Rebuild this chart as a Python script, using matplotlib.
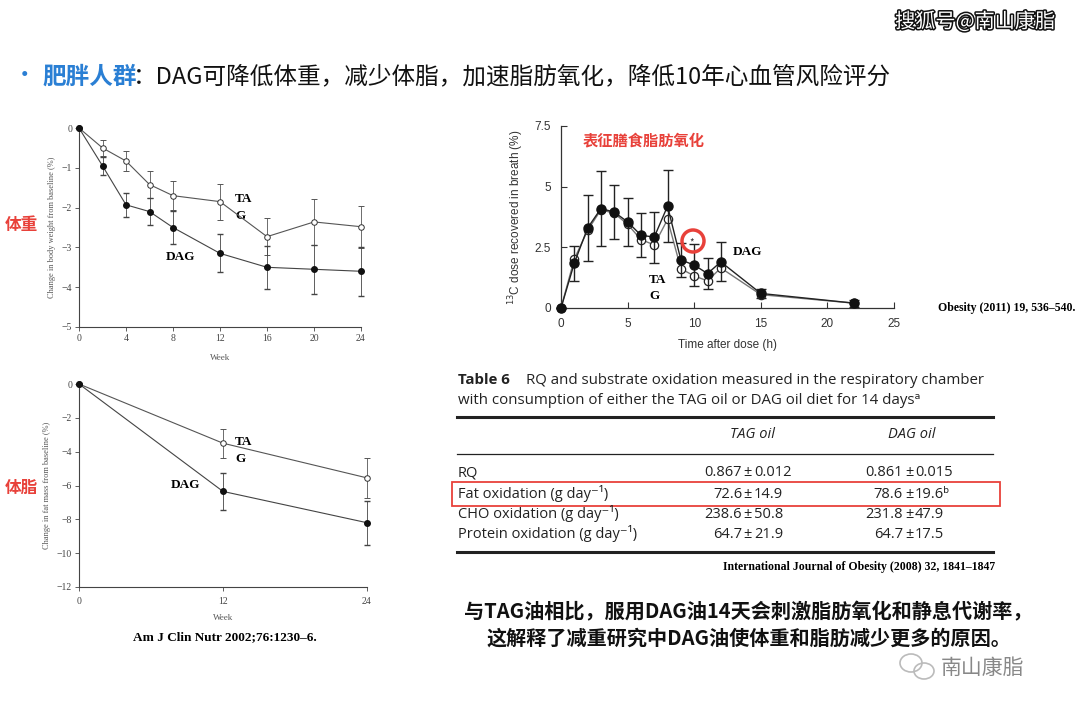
import matplotlib
matplotlib.use("Agg")
import matplotlib.pyplot as plt
import matplotlib.patheffects as pe
from matplotlib.patches import Rectangle, Circle, Ellipse

plt.rcParams['font.family'] = ['Noto Sans CJK SC', 'DejaVu Sans']

# ---- data: body weight (%), AJCN 2002 ----
bw_weeks = [0, 2, 4, 6, 8, 12, 16, 20, 24]
bw_tag = [0, -0.5, -0.83, -1.42, -1.7, -1.85, -2.73, -2.36, -2.48]
bw_tag_err = [0, 0.2, 0.26, 0.33, 0.36, 0.45, 0.46, 0.57, 0.53]
bw_dag = [0, -0.95, -1.93, -2.1, -2.5, -3.15, -3.5, -3.55, -3.6]
bw_dag_err = [0, 0.23, 0.3, 0.34, 0.41, 0.48, 0.54, 0.61, 0.62]

# ---- data: fat mass (%) ----
fm_weeks = [0, 12, 24]
fm_tag = [0, -3.5, -5.55]
fm_tag_err = [0, 0.85, 1.2]
fm_dag = [0, -6.35, -8.2]
fm_dag_err = [0, 1.07, 1.3]

# ---- data: 13C recovered in breath (%), Obesity 2011 ----
c_hours = [0, 1, 2, 3, 4, 5, 6, 7, 8, 9, 10, 11, 12, 15, 22]
c_dag = [0, 1.85, 3.3, 4.1, 3.95, 3.55, 3.0, 2.92, 4.2, 1.98, 1.77, 1.42, 1.9, 0.6, 0.2]
c_dag_err = [0, 0.72, 1.35, 1.55, 1.1, 1.0, 0.9, 1.05, 1.5, 0.7, 0.85, 0.65, 0.8, 0.2, 0.15]
c_tag = [0, 2.02, 3.2, 4.05, 3.9, 3.45, 2.82, 2.6, 3.65, 1.62, 1.32, 1.12, 1.65, 0.55, 0.2]

# ---- data: Table 6, IJO 2008 ----
tbl_rows = ["RQ", "Fat oxidation (g day\u207b\u00b9)", "CHO oxidation (g day\u207b\u00b9)",
            "Protein oxidation (g day\u207b\u00b9)"]
tbl_tag = ["0.867", "72.6", "238.6", "64.7"]
tbl_tag_sd = ["0.012", "14.9", "50.8", "21.9"]
tbl_dag = ["0.861", "78.6", "231.8", "64.7"]
tbl_dag_sd = ["0.015", "19.6\u1d47", "47.9", "17.5"]

W, H = 1080, 715
fig = plt.figure(figsize=(W / 100, H / 100), dpi=100)
fig.patch.set_facecolor('white')


def px_axes(l, t, r, b):
    return fig.add_axes([l / W, 1 - b / H, (r - l) / W, (b - t) / H])


serif = 'Liberation Serif'
sans = 'Liberation Sans'
gray = '#555555'


def style_small(ax):
    for s in ['top', 'right']:
        ax.spines[s].set_visible(False)
    for s in ['left', 'bottom']:
        ax.spines[s].set_color('#444444')
        ax.spines[s].set_linewidth(0.8)
    ax.tick_params(length=3, width=0.6, labelsize=7, colors='#444444', pad=2)
    for lab in ax.get_xticklabels() + ax.get_yticklabels():
        lab.set_fontfamily(serif)


# panel 1: body weight
ax1 = px_axes(79, 128, 361, 327)
ax1.errorbar(bw_weeks, bw_tag, yerr=bw_tag_err, color='#555555', lw=0.8, marker='o',
             ms=4, mfc='white', mec='#333333', mew=0.7, capsize=2, elinewidth=0.6,
             clip_on=False, zorder=3)
ax1.errorbar(bw_weeks, bw_dag, yerr=bw_dag_err, color='#444444', lw=0.8, marker='o',
             ms=4, mfc='#111111', mec='#111111', capsize=2, elinewidth=0.6,
             clip_on=False, zorder=3)
ax1.set_xlim(0, 24)
ax1.set_ylim(-5, 0)
ax1.set_xticks([0, 4, 8, 12, 16, 20, 24])
ax1.set_yticks([0, -1, -2, -3, -4, -5])
ax1.set_yticklabels(['0', '\u22121', '\u22122', '\u22123', '\u22124', '\u22125'])
style_small(ax1)
ax1.set_xlabel('Week', fontfamily=serif, fontsize=6.5, color=gray, labelpad=8)
ax1.set_ylabel('Change in body weight from baseline (%)', fontfamily=serif, fontsize=6,
               color=gray, labelpad=4)
ax1.text(13.3, -1.78, 'TA', fontfamily=serif, fontweight='bold', fontsize=9.5, va='center')
ax1.text(13.3, -2.2, 'G', fontfamily=serif, fontweight='bold', fontsize=9.5, va='center')
ax1.text(8.6, -3.24, 'DAG', fontfamily=serif, fontweight='bold', fontsize=9.5,
         ha='center', va='center')

# panel 2: fat mass
ax2 = px_axes(79, 384, 367, 587)
ax2.errorbar(fm_weeks, fm_tag, yerr=fm_tag_err, color='#555555', lw=0.8, marker='o',
             ms=4, mfc='white', mec='#333333', mew=0.7, capsize=2, elinewidth=0.6,
             clip_on=False, zorder=3)
ax2.errorbar(fm_weeks, fm_dag, yerr=fm_dag_err, color='#444444', lw=0.8, marker='o',
             ms=4, mfc='#111111', mec='#111111', capsize=2, elinewidth=0.6,
             clip_on=False, zorder=3)
ax2.set_xlim(0, 24)
ax2.set_ylim(-12, 0)
ax2.set_xticks([0, 12, 24])
ax2.set_yticks([0, -2, -4, -6, -8, -10, -12])
ax2.set_yticklabels(['0', '\u22122', '\u22124', '\u22126', '\u22128', '\u221210', '\u221212'])
style_small(ax2)
ax2.tick_params(axis='x', pad=4)
ax2.set_xlabel('Week', fontfamily=serif, fontsize=6.5, color=gray, labelpad=6)
ax2.set_ylabel('Change in fat mass from baseline (%)', fontfamily=serif, fontsize=6,
               color=gray, labelpad=4)
ax2.text(13.0, -3.43, 'TA', fontfamily=serif, fontweight='bold', fontsize=9.5, va='center')
ax2.text(13.0, -4.45, 'G', fontfamily=serif, fontweight='bold', fontsize=9.5, va='center')
ax2.text(8.9, -5.97, 'DAG', fontfamily=serif, fontweight='bold', fontsize=9.5,
         ha='center', va='center')

# panel 3: 13C breath
ax3 = px_axes(561, 126, 894, 308)
ax3.plot(c_hours, c_tag, color='#777777', lw=1.0, marker='o', ms=6, mfc='white',
         mec='#222222', mew=0.9, clip_on=False, zorder=3)
ax3.errorbar(c_hours, c_dag, yerr=c_dag_err, color='#222222', lw=1.0, marker='o', ms=6.5,
             mfc='#111111', mec='#111111', capsize=3.5, elinewidth=1.0,
             clip_on=False, zorder=4)
ax3.set_xlim(0, 25)
ax3.set_ylim(0, 7.5)
ax3.set_xticks([0, 5, 10, 15, 20, 25])
ax3.set_yticks([0, 2.5, 5, 7.5])
ax3.set_yticklabels(['0', '2.5', '5', '7.5'])
for s in ['top', 'right']:
    ax3.spines[s].set_visible(False)
for s in ['left', 'bottom']:
    ax3.spines[s].set_color('#333333')
    ax3.spines[s].set_linewidth(0.9)
ax3.tick_params(direction='in', length=4, width=0.8, labelsize=8.5, colors='#333333', pad=7)
for lab in ax3.get_xticklabels() + ax3.get_yticklabels():
    lab.set_fontfamily(sans)
ax3.set_xlabel('Time after dose (h)', fontfamily=sans, fontsize=8.5, color='#333333',
               labelpad=7)
ax3.set_ylabel('$^{13}$C dose recovered in breath (%)', fontfamily=sans, fontsize=8.5,
               color='#333333', labelpad=6)
ax3.text(9.8, 2.7, '*', fontsize=7, ha='center', va='center', color='#333333')
ax3.text(12.9, 2.3, 'DAG', fontfamily=serif, fontweight='bold', fontsize=9.5, va='center')
ax3.text(6.6, 1.15, 'TA', fontfamily=serif, fontweight='bold', fontsize=9.5, va='center')
ax3.text(6.6, 0.5, 'G', fontfamily=serif, fontweight='bold', fontsize=9.5, va='center')
ax3.text(1.65, 6.9, '表征膳食脂肪氧化', fontsize=11, color='#e8413a', fontweight='bold',
         va='center')

# overlay for slide texts and table
ov = fig.add_axes([0, 0, 1, 1], zorder=10)
ov.set_xlim(0, W)
ov.set_ylim(H, 0)
ov.axis('off')
ov.patch.set_alpha(0)

ov.text(1055, 22, '搜狐号@南山康脂', fontsize=14.5, color='white', ha='right', va='center',
        path_effects=[pe.withStroke(linewidth=2.2, foreground='#111111')])

ov.text(13, 76, '•', fontsize=17, color='#2a7fd4', va='center')
ov.text(42, 77, '肥胖人群', fontsize=17, color='#2a7fd4', fontweight='bold', va='center')
ov.text(133, 77, '：DAG可降低体重，减少体脂，加速脂肪氧化，降低10年心血管风险评分', fontsize=17,
        color='#111111', va='center')

ov.text(5, 225, '体重', fontsize=12, color='#e8413a', fontweight='bold', va='center')
ov.text(5, 488, '体脂', fontsize=12, color='#e8413a', fontweight='bold', va='center')

ov.text(225, 637, 'Am J Clin Nutr 2002;76:1230\u20136.', fontfamily=serif, fontweight='bold',
        fontsize=9.5, ha='center', va='center')
ov.text(1075, 308, 'Obesity (2011) 19, 536\u2013540.', fontfamily=serif, fontweight='bold',
        fontsize=8.5, ha='right', va='center')
ov.add_patch(Circle((693, 241), 11, fill=False, ec='#e8413a', lw=2.5))

# table
tf = ['Open Sans', 'DejaVu Sans']
tc = '#222222'
ov.text(458, 380, 'Table 6', family=tf, fontweight='bold', fontsize=10.8, va='center', color=tc)
ov.text(526, 380, 'RQ and substrate oxidation measured in the respiratory chamber',
        family=tf, fontsize=10.8, va='center', color=tc)
ov.text(458, 400, 'with consumption of either the TAG oil or DAG oil diet for 14 days\u1d43',
        family=tf, fontsize=10.8, va='center', color=tc)
ov.plot([457, 993], [417, 417], color=tc, lw=2.2)
ov.plot([457, 993], [454, 454], color=tc, lw=0.9)
ov.plot([457, 993], [552, 552], color=tc, lw=2.2)
ov.text(752, 435, 'TAG oil', family=tf, fontstyle='italic', fontsize=10.5, ha='center',
        va='center', color=tc)
ov.text(912, 435, 'DAG oil', family=tf, fontstyle='italic', fontsize=10.5, ha='center',
        va='center', color=tc)
row_y = [473, 494, 514, 534]
for i, name in enumerate(tbl_rows):
    y = row_y[i]
    ov.text(458, y, name, family=tf, fontsize=10.5, va='center', color=tc)
    for xc, m, sd in [(748, tbl_tag[i], tbl_tag_sd[i]), (909, tbl_dag[i], tbl_dag_sd[i])]:
        ov.text(xc - 6, y, m, family=tf, fontsize=10.5, ha='right', va='center', color=tc)
        ov.text(xc, y, '\u00b1', family=tf, fontsize=10.5, ha='center', va='center', color=tc)
        ov.text(xc + 6, y, sd, family=tf, fontsize=10.5, ha='left', va='center', color=tc)
ov.add_patch(Rectangle((452, 482), 548, 24, fill=False, ec='#e8413a', lw=1.3))
ov.text(995, 567, 'International Journal of Obesity (2008) 32, 1841\u20131847', fontfamily=serif,
        fontweight='bold', fontsize=8.5, ha='right', va='center')

# conclusion
ov.text(748, 612, '与TAG油相比，服用DAG油14天会刺激脂肪氧化和静息代谢率，', fontsize=14.5,
        fontweight='bold', ha='center', va='center', color='#111111')
ov.text(749, 638, '这解释了减重研究中DAG油使体重和脂肪减少更多的原因。', fontsize=14.5,
        fontweight='bold', ha='center', va='center', color='#111111')

# wechat mark
ov.add_patch(Ellipse((911, 663), 22, 18, fill=False, ec='#bbbbbb', lw=1.2))
ov.add_patch(Ellipse((924, 671), 20, 16, fill=False, ec='#bbbbbb', lw=1.2, fc='white'))
ov.text(941, 668, '南山康脂', fontsize=15, color='#888888', va='center')

fig.savefig('out.png', dpi=100)
